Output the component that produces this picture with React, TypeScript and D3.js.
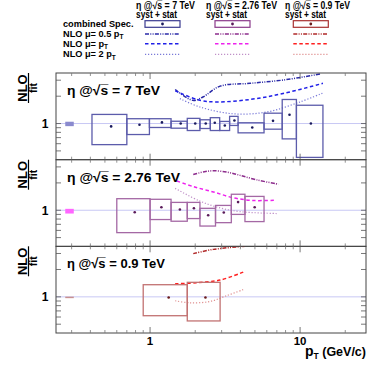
import React from 'react';
import * as d3 from 'd3';

// ---------- data ----------
const energies = ['7 TeV', '2.76 TeV', '0.9 TeV'];

// 7 TeV combined spectrum ratio (boxes = syst + stat)
const pt7 = [0.55, 0.85, 1.2, 1.6, 2.0, 2.35, 2.7, 3.15, 3.65, 4.8, 6.6, 8.5, 11.8];
const ptLo7 = [0.41, 0.7, 0.99, 1.38, 1.77, 2.15, 2.52, 2.91, 3.39, 3.86, 5.75, 7.6, 9.45];
const ptHi7 = [0.7, 0.99, 1.38, 1.77, 2.15, 2.52, 2.91, 3.39, 3.86, 5.75, 7.6, 9.45, 14.2];
const val7 = [0.93, 0.97, 1.03, 1.0, 1.0, 1.0, 1.02, 0.953, 1.08, 0.905, 1.07, 1.25, 1.0];
const valHi7 = [1.26, 1.13, 1.13, 1.06, 1.14, 1.1, 1.16, 1.055, 1.2, 1.02, 1.3, 1.84, 1.59];
const valLo7 = [0.586, 0.757, 0.905, 0.889, 0.838, 0.882, 0.838, 0.838, 0.953, 0.79, 0.867, 0.678, 0.424];

const pt276 = [0.79, 1.19, 1.58, 1.96, 2.44, 3.1, 3.86, 4.98];
const ptLo276 = [0.6, 1.0, 1.38, 1.77, 2.15, 2.73, 3.48, 4.29];
const ptHi276 = [1.0, 1.38, 1.77, 2.15, 2.73, 3.48, 4.29, 5.75];
const val276 = [0.95, 1.08, 1.02, 1.05, 0.88, 0.945, 1.23, 1.08];
const valHi276 = [1.34, 1.32, 1.22, 1.22, 1.05, 1.13, 1.5, 1.42];
const valLo276 = [0.567, 0.79, 0.757, 0.81, 0.67, 0.73, 0.9, 0.75];

const pt09 = [1.33, 2.34];
const ptLo09 = [0.9, 1.77];
const ptHi09 = [1.77, 2.93];
const val09 = [0.985, 0.985];
const valHi09 = [1.36, 1.445];
const valLo09 = [0.62, 0.543];

// normalization uncertainty (box near left edge)
const normHi = [1.047, 1.036, 1.005];
const normLo = [0.936, 0.92, 0.99];

// NLO curves: [pT, ratio]
const nlo05_7 = [[1.47, 2.37], [1.93, 1.8], [2.25, 1.96], [2.93, 2.58], [4.64, 2.77], [7.7, 3.01], [13.6, 3.51]];
const nlo1_7 = [[1.47, 2.29], [2.15, 1.8], [2.78, 1.73], [4.64, 1.84], [7.7, 2.14], [14.2, 2.77]];
const nlo2_7 = [[1.58, 1.88], [2.15, 1.52], [3.58, 1.28], [6.0, 1.34], [10, 1.73], [14.2, 2.17]];

const nlo05_276 = [[1.94, 2.48], [2.3, 2.65], [2.64, 2.72], [3.3, 2.62], [3.98, 2.42], [5.14, 2.16], [7.17, 1.93]];
const nlo1_276 = [[1.51, 2.1], [1.94, 1.82], [2.64, 1.59], [3.59, 1.37], [4.89, 1.28], [6.81, 1.29]];
const nlo2_276 = [[1.47, 1.74], [2.15, 1.26], [2.93, 1.06], [3.98, 0.965], [6.98, 0.92]];

const nlo05_09 = [[1.94, 2.99], [2.64, 3.33], [4.29, 3.6]];
const nlo1_09 = [[1.47, 1.39], [2.05, 1.43], [2.93, 1.53], [4.18, 1.87]];
const nlo2_09 = [[1.47, 0.905], [1.85, 0.86], [2.51, 0.89], [3.24, 1.03], [4.29, 1.22]];

const xTicksMajor = [1, 10];
const xTicksMinor = [0.3, 0.4, 0.5, 0.6, 0.7, 0.8, 0.9, 2, 3, 4, 5, 6, 7, 8, 9, 20];
const yTicks = [0.5, 0.6, 0.7, 0.8, 0.9, 1, 2, 3];

// ---------- styling ----------
const FONT = "'Liberation Sans', Arial, Helvetica, sans-serif";
const palettes = [
  { box: '#5c5cab', dot: '#1a1a5e', norm: '#8a8ace', c05: '#2a2aa8', c1: '#2020e8', c2: '#7a7ad8', legBox: '#3a3a90' },
  { box: '#a468a4', dot: '#5a1a5a', norm: '#ff66ff', c05: '#8c2c8c', c1: '#ee22ee', c2: '#c090c8', legBox: '#8a3a8a' },
  { box: '#c27272', dot: '#6a1a1a', norm: '#c89090', c05: '#b02828', c1: '#ff2020', c2: '#e09090', legBox: '#a83030' },
];
const dash05 = '4,1.3,1,1.3,1,1.3';
const dash1 = '3.5,2.5';
const dash2 = '1.2,1.8';

const L = 56, R = 366;
const tops = [73, 159.7, 246.3];
const PH = 86.7;
const panelLabelLen = [93, 113, 98];
const headLen = [59, 71, 65];

const sqrtS = '@\u221As\u0305';

export default function App() {
  const x = d3.scaleLog().domain([0.236, 27.5]).range([L, R]);
  const datasets = [
    { pt: pt7, lo: ptLo7, hi: ptHi7, v: val7, vh: valHi7, vl: valLo7, curves: [nlo05_7, nlo1_7, nlo2_7] },
    { pt: pt276, lo: ptLo276, hi: ptHi276, v: val276, vh: valHi276, vl: valLo276, curves: [nlo05_276, nlo1_276, nlo2_276] },
    { pt: pt09, lo: ptLo09, hi: ptHi09, v: val09, vh: valHi09, vl: valLo09, curves: [nlo05_09, nlo1_09, nlo2_09] },
  ];
  const dashes = [dash05, dash1, dash2];

  const panels = datasets.map((ds, i) => {
    const top = tops[i];
    const bottom = top + PH;
    const y = d3.scaleLog().domain([0.4, 3.6]).range([bottom, top]);
    const pal = palettes[i];
    const cols = [pal.c05, pal.c1, pal.c2];
    const line = d3.line<number[]>().x(d => x(d[0])).y(d => y(d[1])).curve(d3.curveCatmullRom.alpha(0.5));
    const clipId = `clip${i}`;
    return (
      <g key={i}>
        <defs>
          <clipPath id={clipId}><rect x={L} y={top} width={R - L} height={PH} /></clipPath>
        </defs>
        <line x1={L} x2={R} y1={y(1)} y2={y(1)} stroke="#c8c8f4" strokeWidth={1} />
        <rect x={x(0.272)} width={x(0.31) - x(0.272)} y={y(normHi[i])} height={Math.max(1.5, y(normLo[i]) - y(normHi[i]))} fill={pal.norm} />
        <g clipPath={`url(#${clipId})`}>
          {ds.curves.map((c, k) => (
            <path key={k} d={line(c) || ''} fill="none" stroke={cols[k]} strokeWidth={k === 2 ? 1.2 : 1.5} strokeDasharray={dashes[k]} />
          ))}
          {ds.pt.map((p, k) => (
            <g key={k}>
              <rect x={x(ds.lo[k])} y={y(ds.vh[k])} width={x(ds.hi[k]) - x(ds.lo[k])} height={y(ds.vl[k]) - y(ds.vh[k])}
                fill="none" stroke={pal.box} strokeWidth={1.3} />
              <circle cx={x(p)} cy={y(ds.v[k])} r={1.3} fill={pal.dot} />
            </g>
          ))}
        </g>
        {/* frame */}
        <rect x={L} y={top} width={R - L} height={PH} fill="none" stroke="#444" strokeWidth={1} />
        {/* y ticks */}
        {yTicks.map(t => (
          <g key={t}>
            <line x1={L} x2={L + 5} y1={y(t)} y2={y(t)} stroke="#555" strokeWidth={0.8} />
            <line x1={R} x2={R - 5} y1={y(t)} y2={y(t)} stroke="#555" strokeWidth={0.8} />
          </g>
        ))}
        {/* x ticks */}
        {xTicksMajor.map(t => (
          <g key={'M' + t}>
            <line x1={x(t)} x2={x(t)} y1={bottom} y2={bottom - 6} stroke="#555" strokeWidth={0.8} />
            <line x1={x(t)} x2={x(t)} y1={top} y2={top + 6} stroke="#555" strokeWidth={0.8} />
          </g>
        ))}
        {xTicksMinor.map(t => (
          <g key={'m' + t}>
            <line x1={x(t)} x2={x(t)} y1={bottom} y2={bottom - 3} stroke="#777" strokeWidth={0.8} />
            <line x1={x(t)} x2={x(t)} y1={top} y2={top + 3} stroke="#777" strokeWidth={0.8} />
          </g>
        ))}
        <text x={45} y={y(1) + 4.5} fontSize={12} fontWeight="bold" textAnchor="middle" fontFamily={FONT}>1</text>
        {/* y title */}
        <g transform={`translate(28.5, ${top + 15}) rotate(-90)`} fontFamily={FONT} fontWeight="bold">
          <text x={0} y={-1.5} fontSize={13} textAnchor="middle">NLO</text>
          <line x1={-15} x2={15} y1={0} y2={0} stroke="#000" strokeWidth={1.2} />
          <text x={0} y={8.5} fontSize={10.5} textAnchor="middle">fit</text>
        </g>
        {/* panel label */}
        <text x={67} y={top + 22} fontSize={13.5} fontFamily={FONT} fontWeight="bold"
          textLength={panelLabelLen[i]} lengthAdjust="spacingAndGlyphs">
          {`η ${sqrtS} = ${energies[i]}`}
        </text>
      </g>
    );
  });

  // legend
  const legCols = [145, 215, 293.3];
  const headX = [136, 206, 285];
  const rowLabelsY = [36.5, 46.5, 57];

  return (
    <svg width={374} height={367} style={{ position: 'absolute', left: 0, top: 0, background: '#fff' }}>
      <rect x={0} y={0} width={374} height={367} fill="#fff" />
      {panels}
      {/* x labels */}
      {xTicksMajor.map(t => (
        <text key={t} x={x(t)} y={344.5} fontSize={11.5} fontWeight="bold" textAnchor="middle" fontFamily={FONT}>{t}</text>
      ))}
      <text x={366} y={356} fontSize={12.5} fontWeight="bold" textAnchor="end" fontFamily={FONT}>
        <tspan fontSize={14}>p</tspan>
        <tspan fontSize={8.5} dy={3}>T</tspan>
        <tspan dy={-3}> (GeV/c)</tspan>
      </text>
      {/* legend */}
      <g fontFamily={FONT} fontWeight="bold" fontSize={9.2}>
        <text x={63} y={26.5}>combined Spec.</text>
        <text x={63} y={rowLabelsY[0]}>NLO μ= 0.5 p<tspan fontSize={6.5} dy={2.5}>T</tspan></text>
        <text x={63} y={rowLabelsY[1]}>NLO μ= p<tspan fontSize={6.5} dy={2.5}>T</tspan></text>
        <text x={63} y={rowLabelsY[2]}>NLO μ= 2 p<tspan fontSize={6.5} dy={2.5}>T</tspan></text>
        {energies.map((e, i) => (
          <g key={e}>
            <text x={headX[i]} y={8.8} fontSize={10} textLength={headLen[i]} lengthAdjust="spacingAndGlyphs">
              {`η ${sqrtS} = ${e}`}
            </text>
            <text x={headX[i]} y={18.3} fontSize={10} textLength={41} lengthAdjust="spacingAndGlyphs">syst + stat</text>
            <rect x={legCols[i]} y={20.7} width={35} height={6.6} fill="#fff" stroke={palettes[i].legBox} strokeWidth={1.2} />
            <circle cx={legCols[i] + 17.5} cy={24} r={1.4} fill={palettes[i].dot} />
            {[palettes[i].c05, palettes[i].c1, palettes[i].c2].map((c, k) => (
              <line key={k} x1={legCols[i]} x2={legCols[i] + 35} y1={[34, 43.7, 54.3][k]} y2={[34, 43.7, 54.3][k]}
                stroke={c} strokeWidth={k === 2 ? 1.2 : 1.5} strokeDasharray={dashes[k]} />
            ))}
          </g>
        ))}
      </g>
    </svg>
  );
}
